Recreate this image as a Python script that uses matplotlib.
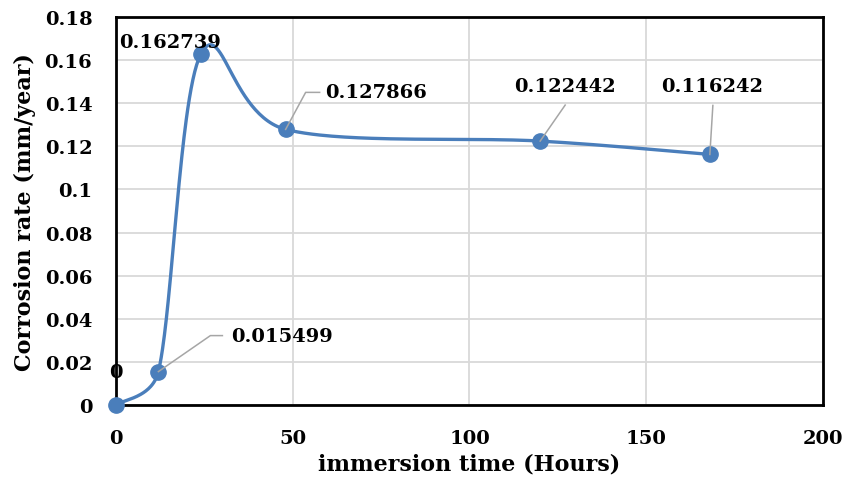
import numpy as np
import matplotlib.pyplot as plt

hours = [0, 12, 24, 48, 120, 168]
rate = [0, 0.015499, 0.162739, 0.127866, 0.122442, 0.116242]
labels = ['0', '0.015499', '0.162739', '0.127866', '0.122442', '0.116242']

xticks = [0, 50, 100, 150, 200]
yticks = [0, 0.02, 0.04, 0.06, 0.08, 0.1, 0.12, 0.14, 0.16, 0.18]
ytick_labels = ['0', '0.02', '0.04', '0.06', '0.08', '0.1', '0.12', '0.14', '0.16', '0.18']

blue = '#4A7EBB'
font = 'DejaVu Serif'


def smooth(ax, x, y, n=60):
    # bezier through the points, worked out in screen space; each handle is
    # a sixth of the neighbour-to-neighbour chord, capped at half its segment
    pts = ax.transData.transform(np.column_stack([x, y]))
    m = len(pts)
    tang, span = [], []
    for i in range(m):
        d = pts[min(i + 1, m - 1)] - pts[max(i - 1, 0)]
        L = np.hypot(*d)
        tang.append(d / L)
        span.append(L / 6)
    t = np.linspace(0, 1, n)[:, None]
    out = []
    for i in range(m - 1):
        p0, p3 = pts[i], pts[i + 1]
        seg = np.hypot(*(p3 - p0))
        p1 = p0 + tang[i] * min(span[i], seg / 2)
        p2 = p3 - tang[i + 1] * min(span[i + 1], seg / 2)
        b = (1 - t) ** 3 * p0 + 3 * (1 - t) ** 2 * t * p1 + 3 * (1 - t) * t ** 2 * p2 + t ** 3 * p3
        out.append(b)
    out = np.vstack(out)
    d = ax.transData.inverted().transform(out)
    return d[:, 0], d[:, 1]


fig = plt.figure(figsize=(8.44, 4.89), dpi=100)
ax = fig.add_axes([0.1374, 0.1697, 0.8377, 0.7935])
ax.set_xlim(0, 200)
ax.set_ylim(0, 0.18)

sx, sy = smooth(ax, hours, rate)
ax.plot(sx, sy, color=blue, lw=2.4, zorder=3, solid_capstyle='round')
ax.plot(hours, rate, 'o', color=blue, ms=11, zorder=4, clip_on=False)

ax.set_xticks(xticks)
ax.set_yticks(yticks)
ax.set_yticklabels(ytick_labels)
ax.tick_params(axis='y', length=0, pad=17)
ax.tick_params(axis='x', length=0, pad=17)
for lab in ax.get_xticklabels() + ax.get_yticklabels():
    lab.set_fontfamily(font)
    lab.set_fontweight('bold')
    lab.set_fontsize(14)
ax.grid(True, color='#D9D9D9', lw=1.3)
ax.set_axisbelow(True)
for s in ax.spines.values():
    s.set_linewidth(2)
    s.set_color('black')

ax.set_xlabel('immersion time (Hours)', fontfamily=font, fontweight='bold', fontsize=16, labelpad=4)
ax.set_ylabel('Corrosion rate (mm/year)', fontfamily=font, fontweight='bold', fontsize=16, labelpad=6)

# pixel -> data offsets
dx = 200 / 707
dy = 0.18 / 388

# (text offset px, leader vertices px, ha) per point; y offsets positive = up
layout = [
    ((0, 33), None, 'center'),
    ((73, 36), [(0, 0), (52, 36), (64, 36)], 'left'),
    ((-31, 12), None, 'center'),
    ((39, 37), [(0, 0), (20, 37), (34, 37)], 'left'),
    ((25, 55), [(0, 0), (25, 36)], 'center'),
    ((2, 68), [(0, 0), (3, 49)], 'center'),
]

for x, y, lab, (off, leader, ha) in zip(hours, rate, labels, layout):
    if leader is not None:
        lx = [x + a * dx for a, b in leader]
        ly = [y + b * dy for a, b in leader]
        ax.plot(lx, ly, color='#A6A6A6', lw=1.1, zorder=5, clip_on=False)
    ax.text(x + off[0] * dx, y + off[1] * dy, lab, ha=ha, va='center',
            fontfamily=font, fontweight='bold', fontsize=14, zorder=6)

fig.savefig('out.png', dpi=100)
